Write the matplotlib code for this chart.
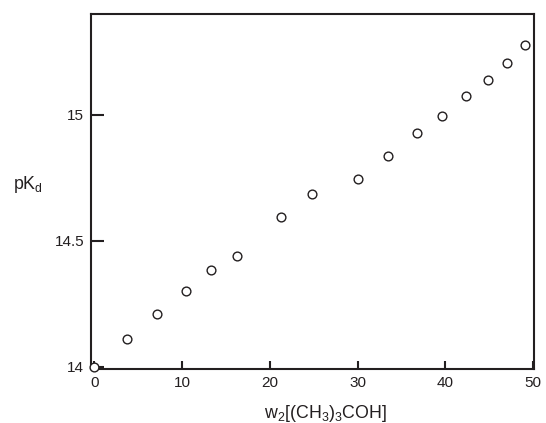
import matplotlib
matplotlib.use("Agg")
import matplotlib.pyplot as plt

plt.rcParams['font.family'] = ['Liberation Sans', 'DejaVu Sans']
plt.rcParams['mathtext.default'] = 'regular'

w2 = [0.0, 3.7, 7.1, 10.5, 13.3, 16.3, 21.3, 24.8, 30.0, 33.5, 36.8, 39.6, 42.4, 44.9, 47.0, 49.1]
pKd = [14.0, 14.11, 14.21, 14.30, 14.385, 14.44, 14.594, 14.687, 14.746, 14.837, 14.929, 14.995, 15.073, 15.139, 15.204, 15.276]

xticks = [0, 10, 20, 30, 40, 50]
yticks = [14, 14.5, 15]
yticklabels = ['14', '14.5', '15']

col = '#231f20'
fig = plt.figure(figsize=(5.46, 4.23), dpi=100)
ax = fig.add_axes([0.1667, 0.1277, 0.978 - 0.1667, 0.967 - 0.1277])

ax.plot(w2, pKd, linestyle='none', marker='o', markersize=6.3,
        markerfacecolor='white', markeredgecolor=col, markeredgewidth=1.0,
        clip_on=False, zorder=5)

ax.set_xlim(-0.37, 50.1)
ax.set_ylim(13.992, 15.40)
ax.set_xticks(xticks)
ax.set_xticklabels([str(t) for t in xticks])
ax.set_yticks(yticks)
ax.set_yticklabels(yticklabels)

for s in ax.spines.values():
    s.set_linewidth(1.5)
    s.set_color(col)

ax.tick_params(axis='x', direction='in', length=6, width=1.5, colors=col,
               labelsize=11, pad=5, labelcolor=col)
ax.tick_params(axis='y', direction='in', length=9.5, width=1.5, colors=col,
               labelsize=11, pad=5, labelcolor=col)

ax.set_xlabel('w$_2$[(CH$_3$)$_3$COH]', fontsize=12.8, color=col)
ax.xaxis.set_label_coords(0.53, -0.097)
ax.set_ylabel('pK$_d$', fontsize=12.8, color=col, rotation=0)
ax.yaxis.set_label_coords(-0.142, 0.49)

fig.savefig('out.png', dpi=100)
